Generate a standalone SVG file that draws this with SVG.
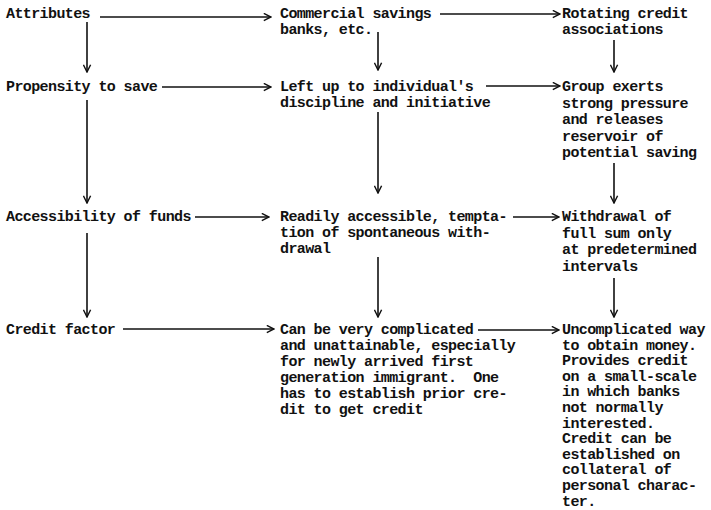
<svg xmlns="http://www.w3.org/2000/svg" width="711" height="510" viewBox="0 0 711 510">
<style>
text{font-family:"Liberation Mono","Courier New",monospace;font-size:15px;letter-spacing:-0.6px;font-weight:bold;fill:#111;}
.c line{stroke:#111;stroke-width:1.6;fill:none;marker-end:url(#ah);}
</style>
<defs>
<marker id="ah" viewBox="0 0 10 10" refX="9" refY="5" markerWidth="9" markerHeight="9" markerUnits="userSpaceOnUse" orient="auto">
<path d="M1,1 L9,5 L1,9" fill="none" stroke="#111" stroke-width="1.6"/>
</marker>
</defs>
<rect width="711" height="510" fill="#fff"/>
<g class="c" id="connectors">
<line x1="100" y1="17" x2="271" y2="17"/>
<line x1="440" y1="14" x2="560" y2="14"/>
<line x1="162" y1="87" x2="271" y2="87"/>
<line x1="486" y1="86" x2="560" y2="86"/>
<line x1="195" y1="217" x2="269" y2="217"/>
<line x1="513" y1="217" x2="559" y2="217"/>
<line x1="123" y1="329" x2="274" y2="329"/>
<line x1="478" y1="330" x2="559" y2="330"/>
<line x1="87" y1="22" x2="87" y2="72"/>
<line x1="87" y1="100" x2="87" y2="203"/>
<line x1="87" y1="233" x2="87" y2="317"/>
<line x1="378" y1="32" x2="378" y2="70"/>
<line x1="378" y1="112" x2="378" y2="193"/>
<line x1="378" y1="257" x2="378" y2="317"/>
<line x1="614" y1="40" x2="614" y2="72"/>
<line x1="614" y1="163" x2="614" y2="203"/>
<line x1="614" y1="278" x2="614" y2="317"/>
</g>
<g id="attributes"><text x="6" y="18">Attributes</text></g>
<g id="propensity"><text x="6" y="91">Propensity to save</text></g>
<g id="accessibility"><text x="6" y="221">Accessibility of funds</text></g>
<g id="credit-factor"><text x="6" y="334">Credit factor</text></g>
<g id="commercial"><text x="280" y="18">Commercial savings</text><text x="280" y="34">banks, etc.</text></g>
<g id="left-up"><text x="280" y="91">Left up to individual's</text><text x="280" y="107">discipline and initiative</text></g>
<g id="readily"><text x="280" y="221">Readily accessible, tempta-</text><text x="280" y="237">tion of spontaneous with-</text><text x="280" y="253">drawal</text></g>
<g id="can-be"><text x="280" y="334">Can be very complicated</text><text x="280" y="350">and unattainable, especially</text><text x="280" y="366">for newly arrived first</text><text x="280" y="382">generation immigrant.&#160; One</text><text x="280" y="398">has to establish prior cre-</text><text x="280" y="414">dit to get credit</text></g>
<g id="rotating"><text x="562" y="18">Rotating credit</text><text x="562" y="34">associations</text></g>
<g id="group"><text x="562" y="91">Group exerts</text><text x="562" y="107.5">strong pressure</text><text x="562" y="124">and releases</text><text x="562" y="140.5">reservoir of</text><text x="562" y="157">potential saving</text></g>
<g id="withdrawal"><text x="562" y="221">Withdrawal of</text><text x="562" y="237.5">full sum only</text><text x="562" y="254">at predetermined</text><text x="562" y="270.5">intervals</text></g>
<g id="uncomplicated"><text x="562" y="334">Uncomplicated way</text><text x="562" y="349.6">to obtain money.</text><text x="562" y="365.2">Provides credit</text><text x="562" y="380.8">on a small-scale</text><text x="562" y="396.4">in which banks</text><text x="562" y="412">not normally</text><text x="562" y="427.6">interested.</text><text x="562" y="443.2">Credit can be</text><text x="562" y="458.8">established on</text><text x="562" y="474.4">collateral of</text><text x="562" y="490">personal charac-</text><text x="562" y="505.6">ter.</text></g>
</svg>
